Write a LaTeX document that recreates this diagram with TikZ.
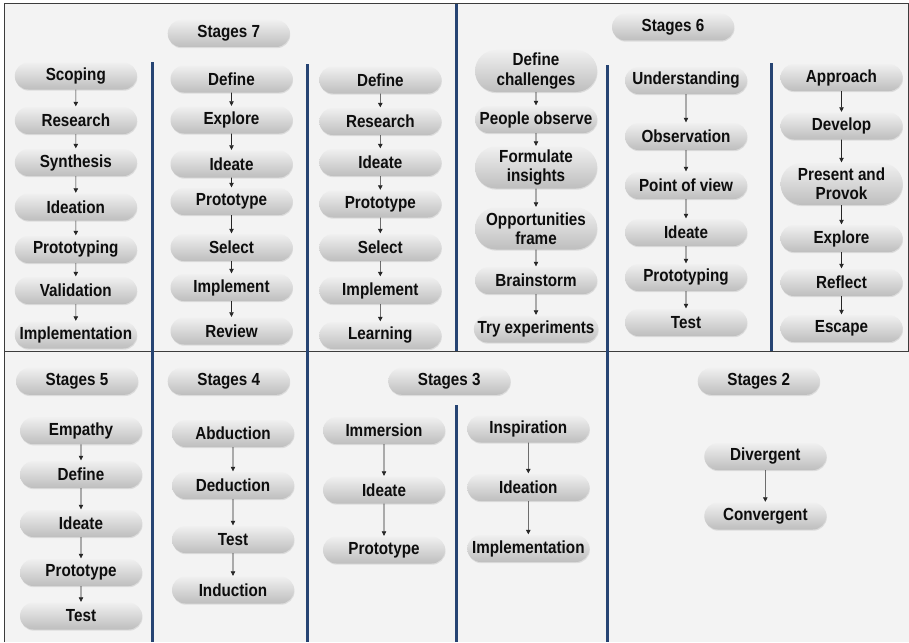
\documentclass[tikz,border=0pt]{standalone}
\usepackage{fontspec}
\setmainfont{Liberation Sans}
\newfontfamily\pillfont[FakeStretch=0.87]{Liberation Sans}
\usetikzlibrary{shapes.misc,arrows.meta,shadows}
\definecolor{pilltop}{RGB}{240,240,240}
\definecolor{pillbot}{RGB}{190,190,190}
\definecolor{sepblue}{RGB}{38,68,115}
\definecolor{bg}{RGB}{243,243,243}
\definecolor{framec}{RGB}{60,60,60}
\tikzset{
  pill/.style={rounded rectangle, minimum width=124pt, minimum height=27pt,
    inner sep=1pt, top color=pilltop, bottom color=pillbot, draw=none,
    align=center, text=black!95,
    font=\pillfont\fontsize{17.5}{19.3}\selectfont\bfseries,
    drop shadow={opacity=0.2, shadow xshift=0.5pt, shadow yshift=-1.2pt}},
  tall/.style={minimum height=42pt},
  flow/.style={-{Triangle[length=4.5pt,width=4.5pt]}, line width=0.6pt, black!85, shorten >=0.5pt},
  sepline/.style={line width=3pt, sepblue},
  frameline/.style={line width=1pt, framec}
}
\begin{document}
\begin{tikzpicture}[x=1pt,y=-1pt]
\useasboundingbox (0,0) rectangle (909,642);
\fill[white] (0,0) rectangle (909,642);
\fill[bg] (4,4) rectangle (909,642);
% frame
\draw[frameline] (4,642) -- (4,4) -- (908,4) -- (908,351);
\draw[frameline] (4,351) -- (909,351);
% separators
\draw[sepline] (152,62) -- (152,642);
\draw[sepline] (307,64) -- (307,642);
\draw[sepline] (456,4) -- (456,351);
\draw[sepline] (456,405) -- (456,642);
\draw[sepline] (607,65) -- (607,642);
\draw[sepline] (771,63) -- (771,351);

% headers
\node[pill] (h7) at (228.7,33.5) {Stages 7};
\node[pill] (h6) at (673,27) {Stages 6};
\node[pill] (h5) at (77,381.3) {Stages 5};
\node[pill] (h4) at (228.7,381.3) {Stages 4};
\node[pill] (h3) at (449.3,381.3) {Stages 3};
\node[pill] (h2) at (758.7,381.3) {Stages 2};

% Stages 7, column 1
\node[pill] (a1) at (75.8,76) {Scoping};
\node[pill] (a2) at (75.8,120.5) {Research};
\node[pill] (a3) at (75.8,162.5) {Synthesis};
\node[pill] (a4) at (75.8,207) {Ideation};
\node[pill] (a5) at (75.8,249.5) {Prototyping};
\node[pill] (a6) at (75.8,290.5) {Validation};
\node[pill] (a7) at (75.8,335) {Implementation};
% Stages 7, column 2
\node[pill] (b1) at (231.5,79) {Define};
\node[pill] (b2) at (231.5,120) {Explore};
\node[pill] (b3) at (231.5,164) {Ideate};
\node[pill] (b4) at (231.5,201.5) {Prototype};
\node[pill] (b5) at (231.5,247.5) {Select};
\node[pill] (b6) at (231.5,287.5) {Implement};
\node[pill] (b7) at (231.5,331) {Review};
% Stages 7, column 3
\node[pill] (c1) at (380.3,80) {Define};
\node[pill] (c2) at (380.3,121.5) {Research};
\node[pill] (c3) at (380.3,162.5) {Ideate};
\node[pill] (c4) at (380.3,204) {Prototype};
\node[pill] (c5) at (380.3,247.5) {Select};
\node[pill] (c6) at (380.3,290.5) {Implement};
\node[pill] (c7) at (380.3,335.5) {Learning};
% Stages 6, column 1
\node[pill,tall] (d1) at (536,71) {Define\\challenges};
\node[pill] (d2) at (536,119.5) {People observe};
\node[pill,tall] (d3) at (536,167.5) {Formulate\\insights};
\node[pill,tall] (d4) at (536,228.5) {Opportunities\\frame};
\node[pill] (d5) at (536,280.5) {Brainstorm};
\node[pill] (d6) at (536,329) {Try experiments};
% Stages 6, column 2
\node[pill] (e1) at (686,80.5) {Understanding};
\node[pill] (e2) at (686,136.5) {Observation};
\node[pill] (e3) at (686,185.5) {Point of view};
\node[pill] (e4) at (686,232.5) {Ideate};
\node[pill] (e5) at (686,277.5) {Prototyping};
\node[pill] (e6) at (686,322.5) {Test};
% Stages 6, column 3
\node[pill] (f1) at (841.5,77.5) {Approach};
\node[pill] (f2) at (841.5,126) {Develop};
\node[pill,tall] (f3) at (841.5,184) {Present and\\Provok};
\node[pill] (f4) at (841.5,238.5) {Explore};
\node[pill] (f5) at (841.5,282.5) {Reflect};
\node[pill] (f6) at (841.5,328.5) {Escape};
% Stages 5
\node[pill] (g1) at (81,430.7) {Empathy};
\node[pill] (g2) at (81,474.5) {Define};
\node[pill] (g3) at (81,523.5) {Ideate};
\node[pill] (g4) at (81,572.5) {Prototype};
\node[pill] (g5) at (81,616) {Test};
% Stages 4
\node[pill] (k1) at (233,433.5) {Abduction};
\node[pill] (k2) at (233,485.5) {Deduction};
\node[pill] (k3) at (233,539.5) {Test};
\node[pill] (k4) at (233,590) {Induction};
% Stages 3
\node[pill] (m1) at (384,430.5) {Immersion};
\node[pill] (m2) at (384,490) {Ideate};
\node[pill] (m3) at (384,550) {Prototype};
\node[pill] (n1) at (528.3,429) {Inspiration};
\node[pill] (n2) at (528.3,487.5) {Ideation};
\node[pill] (n3) at (528.3,548.5) {Implementation};
% Stages 2
\node[pill] (p1) at (765.3,456.5) {Divergent};
\node[pill] (p2) at (765.3,516) {Convergent};

% connectors
\foreach \p/\n in {a/7,b/7,c/7,d/6,e/6,f/6,g/5,k/4,m/3,n/3,p/2}{
  \foreach \i in {2,...,\n}{
    \pgfmathtruncatemacro{\j}{\i-1}
    \draw[flow] (\p\j) -- (\p\i);
  }
}
\end{tikzpicture}
\end{document}
